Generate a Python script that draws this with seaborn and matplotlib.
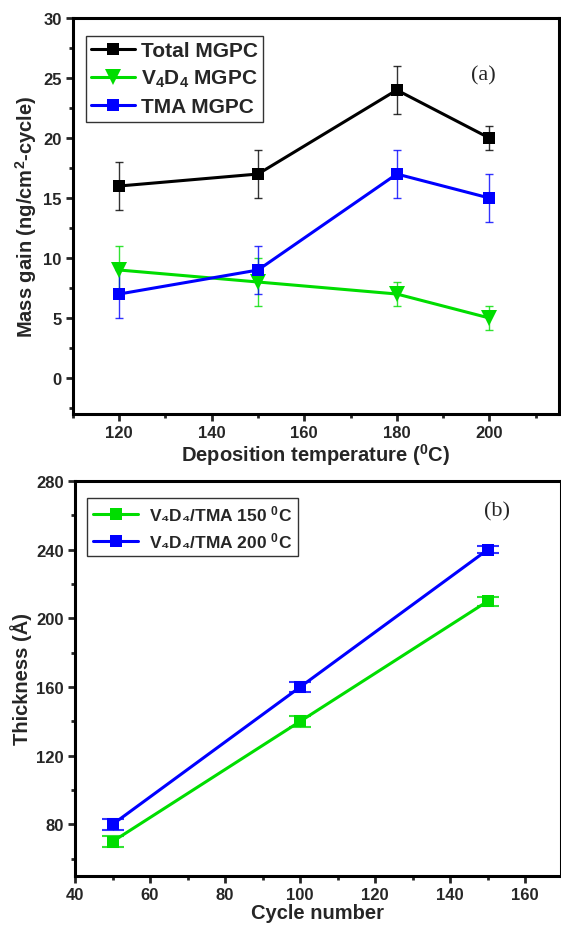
import matplotlib
matplotlib.use("Agg")
import matplotlib.pyplot as plt
import seaborn as sns
import pandas as pd
from matplotlib.ticker import MultipleLocator

# ---- data (a) ----
temps = [120, 150, 180, 200]
total_mgpc = [16, 17, 24, 20]
total_err = [2, 2, 2, 1]
v4d4_mgpc = [9, 8, 7, 5]
v4d4_err = [2, 2, 1, 1]
tma_mgpc = [7, 9, 17, 15]
tma_err = [2, 2, 2, 2]

# ---- data (b) ----
cycles = [50, 100, 150]
thick_150 = [70, 140, 210]
err_150 = [3, 3, 2.5]
thick_200 = [80, 160, 240]
err_200 = [3, 3, 2]

sns.set_style("ticks")
plt.rcParams['font.family'] = ['Liberation Sans', 'DejaVu Sans']
plt.rcParams['font.weight'] = 'bold'
plt.rcParams['mathtext.fontset'] = 'custom'
plt.rcParams['mathtext.rm'] = 'Liberation Sans:bold'
plt.rcParams['mathtext.it'] = 'Liberation Sans:bold'
plt.rcParams['mathtext.bf'] = 'Liberation Sans:bold'

GREEN = '#00dd00'
BLUE = '#0000ff'
BLACK = '#000000'

fig = plt.figure(figsize=(5.61, 9.28), dpi=100)
ax1 = fig.add_axes([0.130, 0.5528, 0.866, 0.4267])
ax2 = fig.add_axes([0.1337, 0.055, 0.866, 0.4256])

def style_axes(ax):
    for s in ax.spines.values():
        s.set_linewidth(2.2)
        s.set_color('black')
    ax.tick_params(which='major', direction='out', length=5, width=2, labelsize=12, pad=3)
    ax.tick_params(which='minor', direction='out', length=3, width=2)
    for lab in ax.get_xticklabels() + ax.get_yticklabels():
        lab.set_fontweight('bold')

# ---- panel (a) ----
dfa = pd.DataFrame({'T': temps, 'total': total_mgpc, 'v4d4': v4d4_mgpc, 'tma': tma_mgpc})
series = [('total', total_err, BLACK, 's', 9, 'Total MGPC'),
          ('v4d4', v4d4_err, GREEN, 'v', 11, 'V$_4$D$_4$ MGPC'),
          ('tma', tma_err, BLUE, 's', 9, 'TMA MGPC')]
for col, err, c, m, ms, lab in series:
    ax1.errorbar(dfa['T'], dfa[col], yerr=err, fmt='none', ecolor=c, elinewidth=1,
                 capsize=3, capthick=1, alpha=0.8, zorder=2)
    sns.lineplot(data=dfa, x='T', y=col, ax=ax1, color=c, marker=m, markersize=ms,
                 markeredgewidth=0, linewidth=2.2, label=lab, zorder=3)

ax1.set_xlim(110, 215)
ax1.set_ylim(-3, 30)
ax1.xaxis.set_major_locator(MultipleLocator(20))
ax1.xaxis.set_minor_locator(MultipleLocator(10))
ax1.yaxis.set_major_locator(MultipleLocator(5))
ax1.yaxis.set_minor_locator(MultipleLocator(2.5))
ax1.set_xticks([120, 140, 160, 180, 200])
ax1.set_xlabel('Deposition temperature ($^0$C)', fontsize=14.5, fontweight='bold', labelpad=1)
ax1.set_ylabel('Mass gain (ng/cm$^2$-cycle)', fontsize=14.5, fontweight='bold', labelpad=3)
style_axes(ax1)
leg = ax1.legend(loc='upper left', bbox_to_anchor=(0.018, 0.965), fontsize=15, frameon=True,
                 fancybox=False, edgecolor='black', handlelength=2.1, borderpad=0.25,
                 labelspacing=0.38, handletextpad=0.3, borderaxespad=0.2)
leg.get_frame().set_linewidth(1)
for t in leg.get_texts():
    t.set_fontweight('bold')
ax1.text(0.845, 0.856, '(a)', transform=ax1.transAxes, fontsize=16, family='Liberation Serif',
         fontweight='normal', ha='center', va='center')

# ---- panel (b) ----
dfb = pd.DataFrame({'cycle': cycles, 't150': thick_150, 't200': thick_200})
series_b = [('t150', err_150, GREEN, 'V\u2084D\u2084/TMA 150 $^0$C'),
            ('t200', err_200, BLUE, 'V\u2084D\u2084/TMA 200 $^0$C')]
for col, err, c, lab in series_b:
    ax2.errorbar(dfb['cycle'], dfb[col], yerr=err, fmt='none', ecolor=c, elinewidth=1,
                 capsize=8, capthick=1.5, alpha=0.8, zorder=2)
    sns.lineplot(data=dfb, x='cycle', y=col, ax=ax2, color=c, marker='s', markersize=9,
                 markeredgewidth=0, linewidth=2.2, label=lab, zorder=3)

ax2.set_xlim(40, 169.5)
ax2.set_ylim(50, 280)
ax2.xaxis.set_major_locator(MultipleLocator(20))
ax2.xaxis.set_minor_locator(MultipleLocator(10))
ax2.yaxis.set_major_locator(MultipleLocator(40))
ax2.yaxis.set_minor_locator(MultipleLocator(20))
ax2.set_xticks([40, 60, 80, 100, 120, 140, 160])
ax2.set_yticks([80, 120, 160, 200, 240, 280])
ax2.set_xlabel('Cycle number', fontsize=14.5, fontweight='bold', labelpad=1)
ax2.set_ylabel('Thickness (\u00c5)', fontsize=14.5, fontweight='bold', labelpad=3)
style_axes(ax2)
leg2 = ax2.legend(loc='upper left', bbox_to_anchor=(0.018, 0.967), fontsize=12.5, frameon=True,
                  fancybox=False, edgecolor='black', handlelength=2.6, borderpad=0.35,
                  labelspacing=0.4, handletextpad=0.6, borderaxespad=0.2)
leg2.get_frame().set_linewidth(1)
for t in leg2.get_texts():
    t.set_fontweight('bold')
ax2.text(0.868, 0.924, '(b)', transform=ax2.transAxes, fontsize=16, family='Liberation Serif',
         fontweight='normal', ha='center', va='center')

fig.savefig('out.png', dpi=100)
